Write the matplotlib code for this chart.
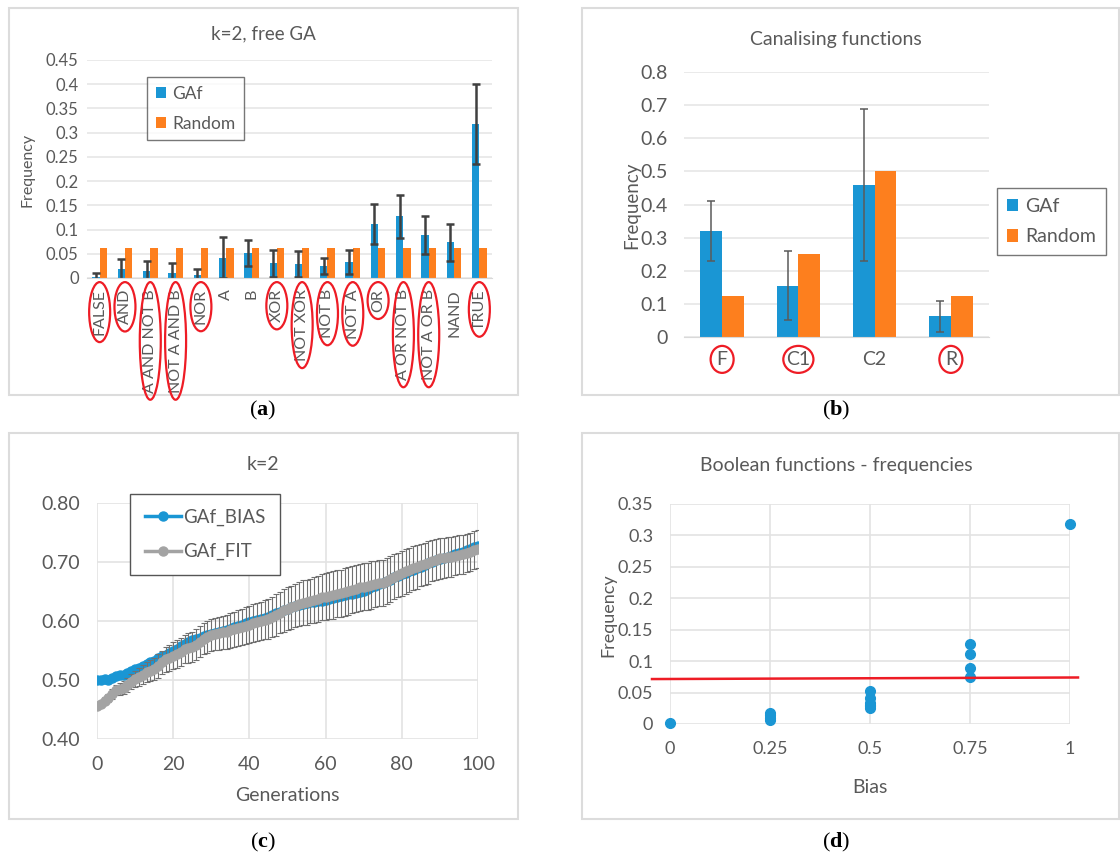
#!/usr/bin/env python3
"""Four-panel figure: Boolean function frequencies for a free GA (k=2)."""

import matplotlib
matplotlib.use("Agg")
import matplotlib.pyplot as plt
from matplotlib.patches import Rectangle, Ellipse
import numpy as np

# ---- panel (a): k=2, free GA ----
func_names = ["FALSE", "AND", "A AND NOT B", "NOT A AND B", "NOR", "A", "B", "XOR",
              "NOT XOR", "NOT B", "NOT A", "OR", "A OR NOT B", "NOT A OR B", "NAND", "TRUE"]
gaf_freq = [0.002, 0.018, 0.015, 0.010, 0.006, 0.042, 0.052, 0.030,
            0.029, 0.025, 0.033, 0.112, 0.127, 0.089, 0.074, 0.318]
gaf_err = [0.008, 0.022, 0.020, 0.020, 0.013, 0.043, 0.027, 0.027,
           0.026, 0.017, 0.024, 0.041, 0.044, 0.040, 0.038, 0.083]
random_freq = [0.0625] * 16
circled_funcs = ["FALSE", "AND", "A AND NOT B", "NOT A AND B", "NOR", "XOR", "NOT XOR",
                 "NOT B", "NOT A", "OR", "A OR NOT B", "NOT A OR B", "TRUE"]

# ---- panel (b): canalising functions ----
canal_names = ["F", "C1", "C2", "R"]
canal_gaf = [0.320, 0.155, 0.458, 0.062]
canal_err = [0.090, 0.105, 0.230, 0.046]
canal_random = [0.125, 0.25, 0.5, 0.125]
circled_canal = ["F", "C1", "R"]

# ---- panel (c): k=2 over generations ----
generations = list(range(101))
bias_mean = [
    0.500, 0.500, 0.501, 0.500, 0.503, 0.506, 0.508, 0.509, 0.512, 0.515,
    0.518, 0.521, 0.524, 0.527, 0.530, 0.533, 0.537, 0.540, 0.543, 0.546,
    0.549, 0.553, 0.557, 0.561, 0.564, 0.567, 0.569, 0.571, 0.574, 0.576,
    0.578, 0.580, 0.581, 0.583, 0.585, 0.587, 0.589, 0.591, 0.594, 0.596,
    0.598, 0.600, 0.602, 0.604, 0.605, 0.607, 0.610, 0.613, 0.615, 0.618,
    0.621, 0.623, 0.625, 0.627, 0.629, 0.631, 0.632, 0.633, 0.634, 0.634,
    0.635, 0.637, 0.639, 0.641, 0.642, 0.644, 0.645, 0.646, 0.648, 0.650,
    0.651, 0.654, 0.657, 0.659, 0.662, 0.664, 0.667, 0.670, 0.674, 0.677,
    0.680, 0.682, 0.685, 0.687, 0.690, 0.692, 0.695, 0.698, 0.700, 0.703,
    0.705, 0.707, 0.709, 0.711, 0.713, 0.715, 0.717, 0.720, 0.722, 0.725,
    0.727]
fit_mean = [
    0.456, 0.460, 0.465, 0.470, 0.476, 0.483, 0.485, 0.487, 0.492, 0.497,
    0.502, 0.505, 0.509, 0.513, 0.516, 0.519, 0.524, 0.530, 0.535, 0.538,
    0.541, 0.544, 0.548, 0.552, 0.554, 0.556, 0.560, 0.565, 0.570, 0.573,
    0.576, 0.578, 0.579, 0.581, 0.582, 0.584, 0.586, 0.588, 0.590, 0.592,
    0.594, 0.596, 0.598, 0.600, 0.602, 0.604, 0.607, 0.610, 0.614, 0.618,
    0.621, 0.623, 0.626, 0.629, 0.631, 0.632, 0.634, 0.636, 0.638, 0.640,
    0.641, 0.643, 0.644, 0.646, 0.647, 0.649, 0.651, 0.653, 0.655, 0.657,
    0.658, 0.659, 0.661, 0.662, 0.664, 0.665, 0.668, 0.671, 0.675, 0.678,
    0.681, 0.684, 0.687, 0.690, 0.692, 0.695, 0.697, 0.699, 0.702, 0.704,
    0.706, 0.707, 0.708, 0.709, 0.711, 0.712, 0.713, 0.715, 0.717, 0.720,
    0.722]
fit_err = [
    0.004, 0.005, 0.006, 0.007, 0.008, 0.009, 0.010, 0.011, 0.012, 0.013,
    0.014, 0.015, 0.016, 0.017, 0.018, 0.019, 0.020, 0.020, 0.021, 0.022,
    0.023, 0.023, 0.024, 0.024, 0.025, 0.025, 0.026, 0.026, 0.026, 0.027,
    0.027, 0.027, 0.028, 0.028, 0.029, 0.029, 0.030, 0.030, 0.031, 0.031,
    0.031, 0.032, 0.032, 0.033, 0.033, 0.034, 0.034, 0.035, 0.035, 0.036,
    0.036, 0.037, 0.037, 0.037, 0.038, 0.038, 0.038, 0.039, 0.039, 0.039,
    0.040, 0.040, 0.040, 0.040, 0.040, 0.040, 0.040, 0.040, 0.040, 0.040,
    0.040, 0.040, 0.040, 0.039, 0.039, 0.039, 0.039, 0.039, 0.038, 0.038,
    0.038, 0.038, 0.037, 0.037, 0.037, 0.036, 0.036, 0.036, 0.035, 0.035,
    0.035, 0.034, 0.034, 0.034, 0.033, 0.033, 0.033, 0.032, 0.032, 0.032,
    0.032]

# ---- panel (d): frequency vs bias ----
func_bias = [0.0, 0.25, 0.25, 0.25, 0.25, 0.5, 0.5, 0.5,
             0.5, 0.5, 0.5, 0.75, 0.75, 0.75, 0.75, 1.0]
threshold_x = [-0.045, 1.02]
threshold_y = [0.0715, 0.0740]

BLUE = "#1a96d4"
ORANGE = "#fd7f1e"
GREY_FIT = "#a3a3a3"
TXT = "#595959"
GRID = "#d9d9d9"
RED = "#ee1c25"

W, H = 1120, 857
plt.rcParams["font.family"] = ["Lato", "DejaVu Sans"]
plt.rcParams["mathtext.fontset"] = "custom"
plt.rcParams["mathtext.rm"] = "Liberation Serif"
plt.rcParams["mathtext.bf"] = "Liberation Serif:bold"

fig = plt.figure(figsize=(W / 100, H / 100), dpi=100)


def px_rect(left, top, right, bottom):
    return [left / W, 1 - bottom / H, (right - left) / W, (bottom - top) / H]


def fig_text(x, y, s, **kw):
    fig.text(x / W, 1 - y / H, s, ha="center", va="center", color=TXT, **kw)


def style_axes(ax, size):
    for side in ["top", "right", "left"]:
        ax.spines[side].set_visible(False)
    ax.spines["bottom"].set_color(GRID)
    ax.tick_params(length=0, labelsize=size, colors=TXT)
    ax.set_axisbelow(True)


# panel frames
for l, t, r, b in [(9, 8, 518, 395), (582, 8, 1119, 395), (9, 433, 518, 819), (582, 433, 1119, 819)]:
    fig.add_artist(Rectangle((l / W, 1 - b / H), (r - l) / W, (b - t) / H,
                             transform=fig.transFigure, fill=False, edgecolor="#dcdcdc", lw=1.5))

# ---------- (a) ----------
axa = fig.add_axes(px_rect(87, 60, 492, 278))
xa = np.arange(len(func_names))
bw = 0.29
axa.bar(xa - bw / 2, gaf_freq, bw, color=BLUE, label="GAf")
axa.bar(xa + bw / 2, random_freq, bw, color=ORANGE, label="Random")
axa.errorbar(xa - bw / 2, gaf_freq, yerr=gaf_err, fmt="none", ecolor="#404040",
             elinewidth=1.8, capsize=3, capthick=1.8)
axa.set_ylim(0, 0.45)
axa.set_xlim(-0.5, len(func_names) - 0.5)
axa.set_yticks(np.arange(0, 0.451, 0.05))
axa.set_yticklabels(["0", "0.05", "0.1", "0.15", "0.2", "0.25", "0.3", "0.35", "0.4", "0.45"])
axa.set_xticks(xa)
axa.set_xticklabels(func_names, rotation=90)
axa.grid(axis="y", color="#e6e6e6", lw=1.2)
style_axes(axa, 12)
axa.tick_params(axis="x", labelsize=11.5, pad=8)
axa.tick_params(axis="y", pad=6)
axa.legend(loc="upper left", bbox_to_anchor=(0.148, 0.922), borderaxespad=0, fancybox=False,
           edgecolor="#555555", fontsize=12.5, handlelength=0.6, handleheight=0.6,
           labelcolor=TXT, borderpad=0.5, labelspacing=0.8, handletextpad=0.35)
axa.get_legend().get_frame().set_linewidth(1.0)
fig_text(263, 34, "k=2, free GA", fontsize=13.5)
fig_text(28, 170, "Frequency", fontsize=11.5, rotation=90)

# ---------- (b) ----------
axb = fig.add_axes(px_rect(684, 72, 989, 337))
xb = np.arange(len(canal_names))
bwb = 0.285
axb.bar(xb - bwb / 2, canal_gaf, bwb, color=BLUE, label="GAf")
axb.bar(xb + bwb / 2, canal_random, bwb, color=ORANGE, label="Random")
axb.errorbar(xb - bwb / 2, canal_gaf, yerr=canal_err, fmt="none", ecolor="#5a5a5a",
             elinewidth=1.1, capsize=3, capthick=1.1)
axb.set_ylim(0, 0.8)
axb.set_xlim(-0.5, len(canal_names) - 0.5)
axb.set_yticks(np.arange(0, 0.81, 0.1))
axb.set_yticklabels(["0", "0.1", "0.2", "0.3", "0.4", "0.5", "0.6", "0.7", "0.8"])
axb.set_xticks(xb)
axb.set_xticklabels(canal_names)
axb.grid(axis="y", color="#e6e6e6", lw=1.2)
style_axes(axb, 14)
axb.tick_params(axis="x", pad=10)
axb.tick_params(axis="y", pad=12)
axb.legend(loc="upper left", bbox_to_anchor=(1.026, 0.562), borderaxespad=0, fancybox=False,
           edgecolor="#555555", fontsize=14, handlelength=0.6, handleheight=0.6,
           labelcolor=TXT, borderpad=0.5, labelspacing=0.7, handletextpad=0.35)
axb.get_legend().get_frame().set_linewidth(1.0)
fig_text(836, 40, "Canalising functions", fontsize=14)
fig_text(632, 205, "Frequency", fontsize=13.5, rotation=90)

# ---------- (c) ----------
axc = fig.add_axes(px_rect(97, 503, 478, 739))
axc.plot(generations, bias_mean, color=BLUE, lw=2.5, marker="o", ms=6.5, label="GAf_BIAS", zorder=3)
axc.errorbar(generations, fit_mean, yerr=fit_err, fmt="none",
             ecolor="#707070", elinewidth=0.8, capsize=2, capthick=0.8, zorder=4)
axc.plot(generations, fit_mean, color=GREY_FIT, lw=2.5, marker="o", ms=6.5, label="GAf_FIT", zorder=5)
axc.set_xlim(0, 100)
axc.set_ylim(0.40, 0.80)
axc.set_xticks(range(0, 101, 20))
axc.set_yticks([0.40, 0.50, 0.60, 0.70, 0.80])
axc.set_yticklabels(["0.40", "0.50", "0.60", "0.70", "0.80"])
axc.grid(color="#e3e3e3", lw=1.2)
for side in axc.spines.values():
    side.set_visible(False)
axc.tick_params(length=0, labelsize=14, colors=TXT, pad=12)
axc.set_axisbelow(True)
axc.set_xlabel("Generations", fontsize=14, color=TXT, labelpad=10)
leg_c = axc.legend(loc="upper left", bbox_to_anchor=(0.087, 1.038), borderaxespad=0, fancybox=False,
                   edgecolor="#555555", fontsize=13.5, handlelength=1.9, labelcolor=TXT,
                   borderpad=0.8, labelspacing=0.9, handletextpad=0.1, framealpha=1)
leg_c.get_frame().set_linewidth(1.0)
fig_text(263, 465, "k=2", fontsize=14)

# ---------- (d) ----------
axd = fig.add_axes(px_rect(670, 504, 1070, 724))
axd.plot(func_bias, gaf_freq, "o", color=BLUE, ms=7, zorder=3, clip_on=False)
axd.plot(threshold_x, threshold_y, color=RED, lw=1.8, clip_on=False, zorder=4)
axd.set_xlim(0, 1)
axd.set_ylim(0, 0.35)
axd.set_xticks([0, 0.25, 0.5, 0.75, 1])
axd.set_xticklabels(["0", "0.25", "0.5", "0.75", "1"])
axd.set_yticks(np.arange(0, 0.351, 0.05))
axd.set_yticklabels(["0", "0.05", "0.1", "0.15", "0.2", "0.25", "0.3", "0.35"])
axd.grid(color="#e3e3e3", lw=1.2)
for side in axd.spines.values():
    side.set_visible(False)
axd.tick_params(length=0, labelsize=13, colors=TXT, pad=12)
axd.set_axisbelow(True)
axd.set_xlabel("Bias", fontsize=14, color=TXT, labelpad=16)
fig_text(836, 465, "Boolean functions - frequencies", fontsize=14)
fig_text(608, 615, "Frequency", fontsize=13, rotation=90)

# panel letters
for x, y, letter in [(263, 410, "a"), (836, 410, "b"), (263, 842, "c"), (836, 842, "d")]:
    fig.text(x / W, 1 - y / H, r"$\mathrm{(}\mathbf{%s}\mathrm{)}$" % letter,
             ha="center", va="center", fontsize=16, color="black")

# red ellipses around selected tick labels
fig.canvas.draw()
renderer = fig.canvas.get_renderer()


def circle_labels(ax, names, pad_w, pad_h, min_w, min_h):
    for lbl in ax.get_xticklabels():
        if lbl.get_text() not in names:
            continue
        bb = lbl.get_window_extent(renderer)
        cx, cy = (bb.x0 + bb.x1) / 2, (bb.y0 + bb.y1) / 2
        w = max(bb.width + pad_w, min_w)
        h = max(bb.height + pad_h, min_h)
        fig.add_artist(Ellipse((cx / W, cy / H), w / W, h / H, transform=fig.transFigure,
                               fill=False, edgecolor=RED, lw=1.6))


circle_labels(axa, circled_funcs, 7, 14, 21, 0)
circle_labels(axb, circled_canal, 6, 8, 23, 27)

fig.savefig("out.png", dpi=100)
